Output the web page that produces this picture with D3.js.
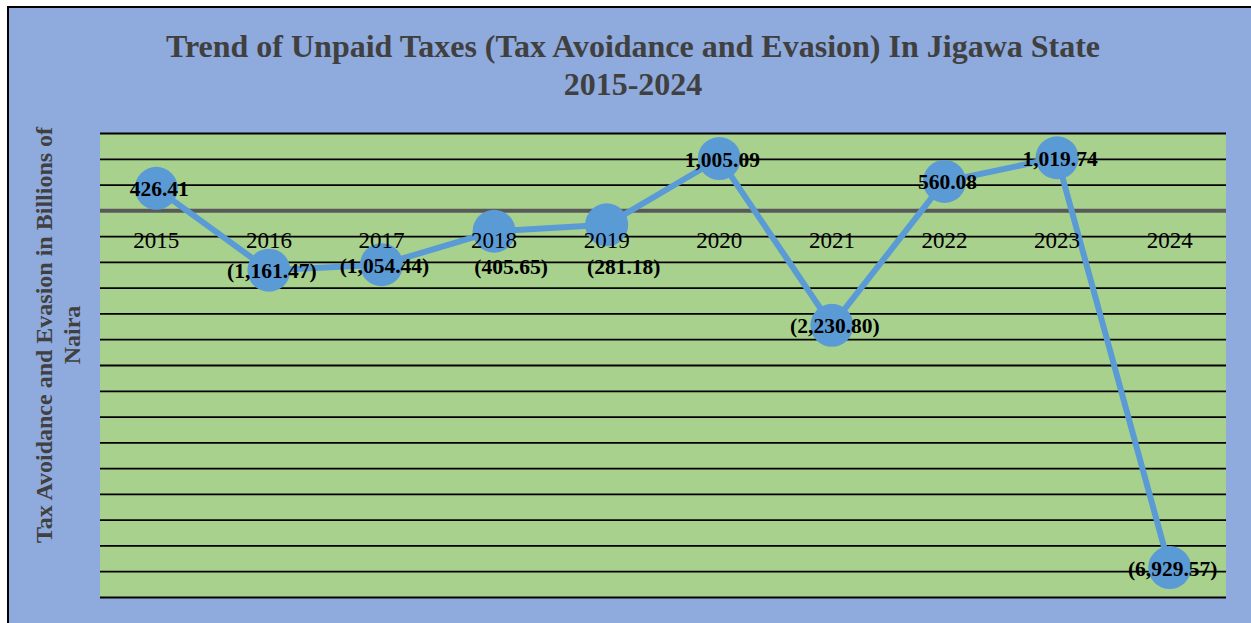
<!DOCTYPE html>
<html>
<head>
<meta charset="utf-8">
<script src="https://cdn.jsdelivr.net/npm/d3@7"></script>
<style>
  html, body { margin: 0; padding: 0; background: #ffffff; }
  svg { display: block; }
</style>
</head>
<body>
<svg id="chart" width="1251" height="623"></svg>
<script>
// ---- data ----
const years = ["2015","2016","2017","2018","2019","2020","2021","2022","2023","2024"];
const unpaidTaxes = [426.41, -1161.47, -1054.44, -405.65, -281.18, 1005.09, -2230.80, 560.08, 1019.74, -6929.57];
const dataLabels = ["426.41","(1,161.47)","(1,054.44)","(405.65)","(281.18)","1,005.09","(2,230.80)","560.08","1,019.74","(6,929.57)"];
const labelPlacement = ["center","center","center","below","below","center","center","center","center","center"];
const yTicks = d3.range(-7500, 1501, 500);
const titleLines = ["Trend of Unpaid Taxes (Tax Avoidance and Evasion) In Jigawa State", "2015-2024"];
const yTitleLines = ["Tax Avoidance and Evasion in Billions of", "Naira"];

// ---- layout ----
const W = 1251, H = 623;
const plot = { left: 100, right: 1226, top: 133, bottom: 597 };
const svg = d3.select("#chart");
const serif = "'Liberation Serif', 'Times New Roman', Times, serif";

// outer frame
svg.append("rect").attr("x", 8).attr("y", 7).attr("width", W + 20).attr("height", H + 20)
  .attr("fill", "#8FAADC").attr("stroke", "#000").attr("stroke-width", 2);

const x = d3.scaleBand().domain(years).range([plot.left, plot.right]).padding(0);
const y = d3.scaleLinear().domain([-7500, 1500]).range([plot.bottom, plot.top]);

// plot area
svg.append("rect").attr("x", plot.left).attr("y", plot.top)
  .attr("width", plot.right - plot.left).attr("height", plot.bottom - plot.top)
  .attr("fill", "#A9D18E");

// gridlines
const grid = svg.append("g")
  .attr("transform", `translate(${plot.left},0)`)
  .call(d3.axisLeft(y).tickValues(yTicks).tickSize(-(plot.right - plot.left)).tickFormat(""));
grid.select(".domain").remove();
grid.selectAll(".tick line")
  .attr("stroke", d => d === 0 ? "#595959" : "#000")
  .attr("stroke-width", d => d === 0 ? 4 : 1.8);

// category axis at zero line
const xa = svg.append("g")
  .attr("transform", `translate(0,${y(0)})`)
  .call(d3.axisBottom(x).tickSize(0).tickPadding(0));
xa.select(".domain").remove();

// line + markers
const pts = years.map((yr, i) => ({ yr, v: unpaidTaxes[i], label: dataLabels[i], place: labelPlacement[i] }));
const line = d3.line().x(d => x(d.yr) + x.bandwidth() / 2).y(d => y(d.v));
svg.append("path").datum(pts).attr("d", line)
  .attr("fill", "none").attr("stroke", "#5B9BD5").attr("stroke-width", 6).attr("stroke-linejoin", "round");
svg.append("g").selectAll("circle").data(pts).join("circle")
  .attr("cx", d => x(d.yr) + x.bandwidth() / 2).attr("cy", d => y(d.v)).attr("r", 21.5)
  .attr("fill", "#5B9BD5");

// category labels (on top of markers)
xa.raise();
xa.selectAll(".tick text")
  .attr("font-family", serif).attr("font-size", 23).attr("fill", "#000")
  .attr("y", 38).attr("dy", 0);

// data labels
svg.append("g").selectAll("text").data(pts).join("text")
  .attr("x", d => x(d.yr) + x.bandwidth() / 2 + (d.place === "below" ? 17 : 3))
  .attr("y", d => (d.place === "below" ? y(0) + 64 : y(d.v) + 8))
  .attr("text-anchor", "middle")
  .attr("font-family", serif).attr("font-weight", "bold").attr("font-size", 21.5)
  .attr("fill", "#000")
  .text(d => d.label);

// title
svg.append("g").selectAll("text").data(titleLines).join("text")
  .attr("x", 633).attr("y", (d, i) => 57 + i * 38)
  .attr("text-anchor", "middle")
  .attr("font-family", serif).attr("font-weight", "bold").attr("font-size", 32)
  .attr("fill", "#404040")
  .text(d => d);

// y-axis title
svg.append("g").selectAll("text").data(yTitleLines).join("text")
  .attr("transform", (d, i) => `translate(${52 + i * 28},335) rotate(-90)`)
  .attr("text-anchor", "middle")
  .attr("font-family", serif).attr("font-weight", "bold").attr("font-size", 24)
  .attr("fill", "#404040")
  .text(d => d);
</script>
</body>
</html>
